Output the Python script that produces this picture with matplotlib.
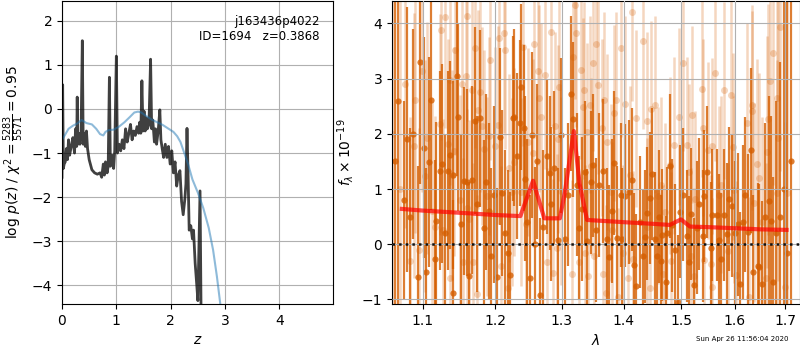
import numpy as np
import matplotlib
matplotlib.use("Agg")
import matplotlib.pyplot as plt
from matplotlib.ticker import FormatStrFormatter, NullLocator, NullFormatter

# ---- left panel: log p(z) ----
z_pz = [0.00, 0.012, 0.025, 0.04, 0.06, 0.08, 0.10, 0.12, 0.14, 0.17, 0.20, 0.23, 0.25, 0.27,
        0.28, 0.29, 0.31, 0.33, 0.35, 0.374, 0.39, 0.41, 0.43, 0.45, 0.47, 0.50, 0.55, 0.60,
        0.65, 0.70, 0.73, 0.76, 0.78, 0.80, 0.83, 0.85, 0.872, 0.89, 0.92, 0.95, 0.97, 1.00,
        1.02, 1.05, 1.08, 1.11, 1.14, 1.17, 1.20, 1.23, 1.26, 1.29, 1.32, 1.35, 1.38, 1.41,
        1.43, 1.45, 1.47, 1.49, 1.51, 1.53, 1.55, 1.57, 1.60, 1.63, 1.65, 1.67, 1.70, 1.72,
        1.74, 1.77, 1.80, 1.82, 1.85, 1.87, 1.90, 1.93, 1.96, 1.99, 2.02, 2.05, 2.08, 2.11,
        2.14, 2.17, 2.20, 2.23, 2.26, 2.28, 2.30, 2.32, 2.34, 2.37, 2.40, 2.42, 2.45, 2.48,
        2.50, 2.54, 2.56]
logp = [-1.55, 0.55, -1.35, -1.25, -1.20, -0.90, -1.15, -0.70, -1.05, -0.85, -0.65, -1.00, -0.45, -0.85,
        0.27, -0.80, -0.55, -0.80, -0.60, 1.55, -0.80, -0.55, -0.85, -0.50, -0.90, -1.15, -1.38, -1.45,
        -1.48, -1.45, -1.55, -1.25, -1.50, -1.20, -1.45, -1.30, 0.72, -1.30, -1.05, -1.35, -0.95, 1.20,
        -1.00, -0.80, -0.95, -0.70, -0.90, -0.45, -0.75, -0.55, -0.35, -0.70, -0.50, -0.60, -0.40, -0.55,
        -0.30, -0.55, 0.64, -0.50, -0.05, -0.50, -0.20, -0.45, -0.35, 1.13, -0.45, -0.25, -0.75, -0.45,
        -0.80, -0.50, -0.02, -0.70, -0.95, -1.10, -0.80, -1.10, -0.85, -1.25, -0.95, -1.45, -1.20, -1.75,
        -1.50, -1.40, -2.10, -2.40, -2.05, -1.70, -0.44, -1.50, -2.75, -2.65, -2.95, -2.75, -3.50, -4.00,
        -4.35, -1.86, -4.80]

z_prior = [0.0, 0.05, 0.12, 0.2, 0.28, 0.36, 0.45, 0.55, 0.63, 0.70, 0.76, 0.80, 0.86, 0.95, 1.05,
           1.15, 1.25, 1.33, 1.40, 1.46, 1.55, 1.65, 1.75, 1.85, 1.95, 2.05, 2.12, 2.18, 2.25, 2.32,
           2.40, 2.50, 2.60, 2.70, 2.78, 2.85, 2.92, 3.0]
logp_prior = [-0.70, -0.60, -0.45, -0.38, -0.33, -0.25, -0.32, -0.35, -0.45, -0.57, -0.60, -0.52, -0.48,
              -0.47, -0.40, -0.30, -0.18, -0.08, -0.06, -0.08, -0.16, -0.24, -0.30, -0.36, -0.44, -0.52,
              -0.62, -0.75, -1.00, -1.25, -1.60, -1.90, -2.25, -2.70, -3.20, -3.80, -4.50, -5.20]

# ---- right panel: spectrum (dark = main, light = second) ----
wave_a = [1.0646, 1.0684, 1.0752, 1.0800, 1.0839, 1.0878, 1.0934, 1.0970, 1.1013, 1.1040, 1.1080,
          1.1115, 1.1164, 1.1185, 1.1226, 1.1266, 1.1303, 1.1340, 1.1375, 1.1403, 1.1416, 1.1463,
          1.1481, 1.1523, 1.1564, 1.1609, 1.1637, 1.1679, 1.1721, 1.1749, 1.1792, 1.1840, 1.1877,
          1.1908, 1.1948, 1.1986, 1.2034, 1.2074, 1.2107, 1.2147, 1.2195, 1.2220, 1.2260, 1.2279,
          1.2316, 1.2358, 1.2383, 1.2417, 1.2438, 1.2472, 1.2517, 1.2537, 1.2592, 1.2622, 1.2667,
          1.2717, 1.2769, 1.2820, 1.2835, 1.2887, 1.2944, 1.2991, 1.3053, 1.3100, 1.3152, 1.3178,
          1.3237, 1.3273, 1.3321, 1.3369, 1.3406, 1.3466, 1.3498, 1.3542, 1.3600, 1.3665, 1.3721,
          1.3764, 1.3808, 1.3842, 1.3897, 1.3955, 1.3976, 1.4027, 1.4094, 1.4140, 1.4184, 1.4213,
          1.4272, 1.4328, 1.4368, 1.4397, 1.4459, 1.4489, 1.4541, 1.4571, 1.4611, 1.4646, 1.4663,
          1.4734, 1.4757, 1.4799, 1.4846, 1.4899, 1.4942, 1.4983, 1.5042, 1.5103, 1.5145, 1.5181,
          1.5242, 1.5291, 1.5333, 1.5396, 1.5420, 1.5481, 1.5545, 1.5575, 1.5657, 1.5706, 1.5738,
          1.5800, 1.5857, 1.5896, 1.5953, 1.6005, 1.6057, 1.6107, 1.6159, 1.6204, 1.6262, 1.6321,
          1.6360, 1.6446, 1.6478, 1.6532, 1.6591, 1.6665, 1.6717, 1.6757, 1.6812, 1.6893, 1.6974,
          1.7040, 1.7115]
flux_a = [1.5, 2.6, 0.8, 1.9, 0.5, 2.0, -0.59, 3.30, 1.75, -0.51, 1.49,
          2.62, -0.27, 0.42, 1.33, 1.46, 0.2, 1.33, 1.62, 1.25, -0.89, 3.04,
          2.31, 0.37, 1.15, 1.12, -0.58, 1.17, 2.24, 0.73, 2.28, 0.29, 1.13,
          0.6, -0.21, 0.9, -0.59, 1.95, 0.93, 0.2, -0.15, -0.55, 2.28, 2.30,
          1.6, 2.20, 2.85, 2.11, 1.19, 0.4, -0.61, 1.98, 0.0, 1.5, -0.92,
          0.31, 1.59, 1.29, 0.73, 1.38, 0.08, 1.97, 0.09, 0.9, 2.73, 2.26,
          1.08, 0.3, 0.64, 1.3, 0.06, 1.12, 1.43, 0.26, 1.07, 1.33, 0.09,
          -0.23, 0.6, 1.47, 0.11, 0.89, 0.09, 0.88, 0.95, 1.17, -0.38, -0.75,
          0.4, -0.21, 0.14, 0.56, 0.84, 1.27, 0.10, -0.22, 0.5, -0.30, 0.17,
          -0.69, 0.20, 1.42, 0.34, -0.10, -1.04, 0.59, 0.90, 0.15, -0.33, 0.55,
          -0.73, 0.3, 0.73, 0.15, 0.87, 1.31, -0.07, 0.53, 0.53, 0.07, -0.27,
          0.53, 0.18, 0.82, 0.70, 0.2, 0.36, -0.72, 0.4, 0.90, 0.23, 1.70,
          -0.50, -0.39, -0.41, -0.72, 0.5, 0.79, 0.42, -0.68, 0.2, 0.5, 1.0,
          -0.15, 1.5]
err_a = [6.0, 6.0, 1.8, 2.4, 1.6, 1.9, 2.0, 2.2, 2.0, 1.9, 1.9,
         2.0, 1.8, 1.8, 1.8, 1.8, 1.8, 1.8, 1.7, 1.7, 1.7, 1.8,
         1.7, 1.6, 1.7, 1.7, 1.7, 1.7, 1.7, 1.6, 1.6, 1.6, 1.6,
         1.6, 1.6, 1.6, 1.6, 1.6, 1.5, 1.5, 1.5, 1.5, 1.5, 1.6,
         1.5, 1.5, 1.5, 1.5, 1.5, 1.5, 1.5, 1.5, 1.4, 1.4, 1.4,
         1.4, 1.4, 1.4, 1.4, 1.4, 1.3, 1.4, 1.3, 1.3, 1.4, 1.4,
         1.3, 1.3, 1.3, 1.3, 1.3, 1.3, 1.3, 1.3, 1.3, 1.3, 1.3,
         1.3, 1.3, 1.3, 1.3, 1.3, 1.3, 1.3, 1.3, 1.3, 1.3, 1.3,
         1.2, 1.2, 1.2, 1.2, 1.2, 1.2, 1.2, 1.2, 1.2, 1.2, 1.2,
         1.2, 1.2, 1.3, 1.2, 1.2, 1.2, 1.2, 1.2, 1.2, 1.2, 1.2,
         1.2, 1.2, 1.2, 1.2, 1.2, 1.2, 1.2, 1.2, 1.2, 1.2, 1.2,
         1.2, 1.3, 1.3, 1.3, 1.3, 1.3, 1.3, 1.4, 1.4, 1.4, 1.5,
         1.4, 1.5, 1.5, 1.5, 1.7, 1.9, 1.9, 1.9, 2.4, 2.8, 3.5,
         6.0, 6.0]

wave_b = [1.0610, 1.0710, 1.0766, 1.0839, 1.0891, 1.0904, 1.0956, 1.0999, 1.1030, 1.1061, 1.1123,
          1.1170, 1.1226, 1.1249, 1.1276, 1.1307, 1.1347, 1.1364, 1.1375, 1.1394, 1.1425, 1.1443,
          1.1509, 1.1540, 1.1554, 1.1582, 1.1596, 1.1609, 1.1629, 1.1675, 1.1689, 1.1721, 1.1749,
          1.1763, 1.1783, 1.1820, 1.1848, 1.1882, 1.1911, 1.1934, 1.2001, 1.2049, 1.2064, 1.2084,
          1.2123, 1.2137, 1.2195, 1.2206, 1.2250, 1.2270, 1.2378, 1.2408, 1.2457, 1.2491, 1.2557,
          1.2581, 1.2632, 1.2652, 1.2678, 1.2748, 1.2779, 1.2831, 1.2871, 1.2897, 1.2923, 1.2948,
          1.2964, 1.2986, 1.3158, 1.3183, 1.3205, 1.3226, 1.3278, 1.3305, 1.3329, 1.3353, 1.3369,
          1.3393, 1.3418, 1.3442, 1.3466, 1.3493, 1.3515, 1.3539, 1.3584, 1.3639, 1.3660, 1.3677,
          1.3701, 1.3726, 1.3788, 1.3808, 1.3842, 1.3875, 1.3910, 1.3965, 1.3985, 1.4027, 1.4082,
          1.4111, 1.4140, 1.4167, 1.4203, 1.4336, 1.4397, 1.4407, 1.4454, 1.4466, 1.4541, 1.4588,
          1.4646, 1.4681, 1.4708, 1.4804, 1.4813, 1.4882, 1.4970, 1.5042, 1.5116, 1.5153, 1.5172,
          1.5200, 1.5236, 1.5251, 1.5377, 1.5401, 1.5420, 1.5489, 1.5545, 1.5569, 1.5575, 1.5625,
          1.5706, 1.5738, 1.5800, 1.5876, 1.5922, 1.5966, 1.5991, 1.6024, 1.6242, 1.6276, 1.6327,
          1.6343, 1.6373, 1.6427, 1.6478, 1.6522, 1.6611, 1.6625, 1.6651, 1.6691, 1.6757, 1.6825,
          1.6839, 1.6852, 1.6883, 1.6995, 1.7040]
flux_b = [2.0, 1.0, 2.90, -0.3, 1.78, 2.61, -0.1, 3.14, 1.23, 1.93, 0.6,
          0.32, 2.17, 3.88, 0.26, 4.11, 1.82, -0.62, 2.98, 1.26, 1.68, 3.52,
          0.81, 2.90, -0.33, 3.04, 0.65, 4.14, 0.45, 2.79, -0.32, 3.55, -0.90,
          2.44, 2.75, 2.14, 1.72, 0.87, 1.96, 3.33, 1.78, 2.16, 3.73, -0.39,
          3.82, 3.52, -0.80, 1.38, 0.94, 1.49, 0.95, 3.58, 0.37, 1.85, 1.65,
          3.62, 3.13, 2.64, 2.31, 3.06, -0.32, 3.84, -0.52, 2.14, -0.07, 1.91,
          2.84, 0.97, -0.53, 3.40, 4.33, 3.82, -0.32, 3.15, 2.49, 2.79, -0.16,
          2.04, -0.58, 2.53, 1.41, 3.29, -0.21, 3.62, 2.88, 2.11, -0.54, 2.61,
          -0.89, 1.85, 0.94, 0.26, 2.38, 2.61, -0.95, 3.55, -0.16, 2.54, -0.61,
          1.26, 4.20, -0.27, 2.28, 3.68, 0.32, 2.24, -0.80, 2.45, 2.53, 0.88,
          1.07, -0.53, 0.59, 1.43, -0.30, 1.79, 2.31, 3.28, 1.79, 1.31, -0.22,
          2.35, -0.58, 0.82, 2.82, 2.11, -0.28, 1.70, -0.35, 1.78, -0.77, 3.11,
          0.90, 1.08, 2.79, -0.13, 2.70, 1.77, 0.99, -0.56, 2.20, -0.95, 2.53,
          2.42, 0.75, 1.45, 1.20, 0.40, -0.62, 1.67, 2.26, 2.95, 3.47, 2.65,
          0.93, 1.93, 3.93, -0.78, 0.93]
err_b = [6.0, 5.0, 2.6, 2.6, 2.4, 2.4, 2.2, 2.2, 2.1, 2.1, 2.0,
         2.0, 2.0, 2.0, 2.0, 2.0, 1.9, 1.9, 1.9, 1.9, 1.9, 1.9,
         1.9, 1.9, 1.9, 1.9, 1.8, 1.9, 1.8, 1.8, 1.8, 1.8, 1.8,
         1.8, 1.8, 1.8, 1.8, 1.8, 1.8, 1.8, 1.8, 1.8, 1.8, 1.8,
         1.8, 1.8, 1.7, 1.7, 1.7, 1.7, 1.7, 1.8, 1.7, 1.7, 1.7,
         1.7, 1.7, 1.7, 1.7, 1.7, 1.7, 1.7, 1.7, 1.7, 1.7, 1.7,
         1.7, 1.7, 1.7, 1.7, 1.7, 1.7, 1.6, 1.6, 1.6, 1.6, 1.6,
         1.6, 1.6, 1.6, 1.6, 1.6, 1.6, 1.6, 1.6, 1.6, 1.6, 1.6,
         1.6, 1.6, 1.6, 1.6, 1.6, 1.6, 1.6, 1.6, 1.6, 1.6, 1.6,
         1.6, 1.6, 1.6, 1.6, 1.6, 1.6, 1.6, 1.6, 1.6, 1.6, 1.6,
         1.6, 1.6, 1.6, 1.6, 1.6, 1.6, 1.6, 1.6, 1.6, 1.6, 1.6,
         1.6, 1.6, 1.6, 1.6, 1.6, 1.6, 1.6, 1.6, 1.6, 1.6, 1.6,
         1.6, 1.6, 1.6, 1.6, 1.7, 1.7, 1.7, 1.7, 1.8, 1.8, 1.8,
         1.8, 1.8, 1.9, 1.9, 1.9, 2.1, 2.1, 2.1, 2.2, 2.4, 2.4,
         2.4, 2.6, 2.6, 3.0, 5.0]

wave_model = [1.073, 1.10, 1.15, 1.20, 1.237, 1.256, 1.273, 1.297, 1.305, 1.319, 1.328, 1.340,
              1.40, 1.45, 1.480, 1.4999, 1.5163, 1.55, 1.60, 1.65, 1.7025]
flux_model = [0.64, 0.61, 0.57, 0.53, 0.51, 1.15, 0.47, 0.47, 0.95, 2.05, 1.10, 0.44,
              0.40, 0.37, 0.35, 0.45, 0.32, 0.31, 0.29, 0.27, 0.26]

c_spec = (0.835, 0.369, 0.0)

fig = plt.figure(figsize=(8, 3.5), dpi=100)
ax1 = fig.add_axes([0.0775, 0.131, 0.339, 0.866])
ax2 = fig.add_axes([0.49, 0.131, 0.5095, 0.866])

# p(z)
ax1.plot(z_pz, logp, color='k', alpha=0.75, lw=2)
ax1.plot(z_prior, logp_prior, color='#1f77b4', alpha=0.5, lw=1.5)
ax1.set_xlim(0, 4.99)
ax1.set_ylim(-4.43, 2.45)
ax1.set_xticks([0, 1, 2, 3, 4])
ax1.set_yticks([-4, -3, -2, -1, 0, 1, 2])
ax1.grid()
ax1.set_xlabel('$z$')
ax1.set_ylabel(r'log $p(z)$ / $\chi^2=\frac{5283}{5571}=0.95$')
ax1.text(0.95, 0.955, 'j163436p4022\nID=1694   z=0.3868', transform=ax1.transAxes,
         ha='right', va='top', fontsize=8.5)

# spectrum
ax2.errorbar(wave_b, flux_b, yerr=err_b, fmt='o', color=c_spec, alpha=0.25, ms=5,
             elinewidth=1.8, mew=0, zorder=2.0)
ax2.errorbar(wave_a, flux_a, yerr=err_a, fmt='o', color=c_spec, alpha=0.8, ms=4.5,
             elinewidth=1.6, mew=0, zorder=2.2)
ax2.plot(wave_model, flux_model, color='r', alpha=0.7, lw=3, zorder=5)
ax2.axhline(0, color='k', linestyle=':', lw=1.8, alpha=0.9, zorder=6)
ax2.set_axisbelow(False)
ax2.set_xscale('log')
ax2.set_xlim(1.0604, 1.7294)
ax2.set_ylim(-1.085, 4.405)
ax2.set_xticks([1.1, 1.2, 1.3, 1.4, 1.5, 1.6, 1.7])
ax2.xaxis.set_major_formatter(FormatStrFormatter('%.1f'))
ax2.xaxis.set_minor_locator(NullLocator())
ax2.xaxis.set_minor_formatter(NullFormatter())
ax2.set_yticks([-1, 0, 1, 2, 3, 4])
ax2.grid()
ax2.set_xlabel(r'$\lambda$')
ax2.set_ylabel(r'$f_\lambda\times10^{-19}$')

fig.text(0.985, 0.022, 'Sun Apr 26 11:56:04 2020', ha='right', va='bottom', fontsize=5)

fig.savefig('out.png', dpi=100)
